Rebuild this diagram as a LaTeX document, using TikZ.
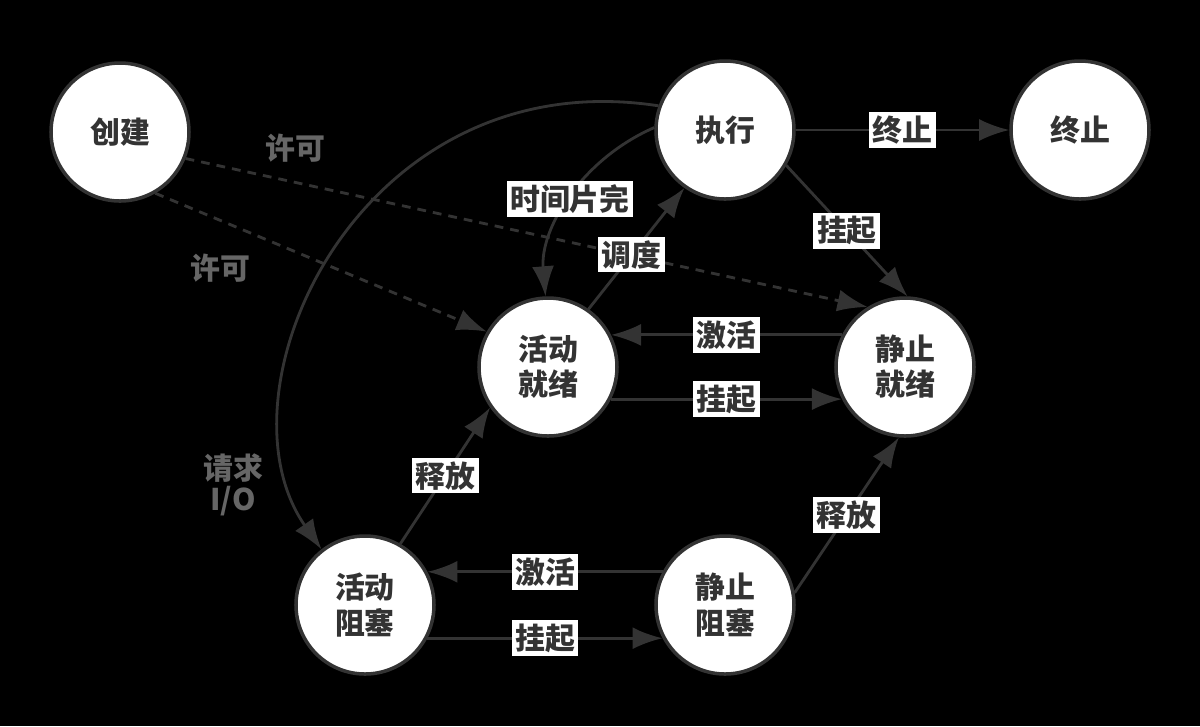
\documentclass[tikz,border=0pt]{standalone}
\usepackage{fontspec}
\setmainfont{Noto Sans CJK SC}
\usetikzlibrary{arrows.meta}
\definecolor{ink}{HTML}{333333}
\definecolor{soft}{HTML}{666666}
\tikzset{
	state/.style={circle,draw=ink,fill=white,line width=1pt,minimum size=1.38cm,inner sep=0pt,align=center,text=ink,font=\bfseries\fontsize{8.5}{10}\selectfont},
	flow/.style={draw=ink,line width=0.8pt,-{Latex[length=3mm,width=2.2mm]}},
	perm/.style={flow,dashed,dash pattern=on 2.5pt off 2pt},
	tag/.style={fill=white,text=ink,inner sep=1pt,font=\bfseries\fontsize{8.5}{10}\selectfont},
	note/.style={text=soft,align=center,font=\bfseries\fontsize{8.5}{9}\selectfont}
}
\begin{document}
\begin{tikzpicture}
\fill[black] (0,0) rectangle (12,-7.26);
\node[state] (create) at (1.2,-1.32) {创建};
\node[state] (run) at (7.25,-1.30) {执行};
\node[state] (stop) at (10.8,-1.30) {终止};
\node[state] (ready) at (5.48,-3.67) {活动\\就绪};
\node[state] (sready) at (9.05,-3.67) {静止\\就绪};
\node[state] (block) at (3.65,-6.05) {活动\\阻塞};
\node[state] (sblock) at (7.25,-6.05) {静止\\阻塞};

\draw[flow] (run) -- node[tag] {终止} (stop);
\draw[perm] (create.-22) -- (sready.122);
\node[note] (perm1) at (2.95,-1.48) {许可};
\draw[perm] (create.-60) -- (ready.150);
\node[note] (perm2) at (2.2,-2.68) {许可};
\draw[flow] (run.178) .. controls (5.8,-1.6) and (5.4,-2.3) .. (ready.92)
	node[pos=0.5,tag] {时间片完};
\draw[flow] (ready.55) -- node[tag,pos=0.45] {调度} (run.-125);
\draw[flow] (run.-30) -- node[tag] {挂起} (sready.88);
\draw[flow] (sready.153) -- node[tag] {激活} (ready.27);
\draw[flow] (ready.-27) -- node[tag] {挂起} (sready.-153);
\draw[flow] (block.60) -- node[tag] {释放} (ready.-145);
\draw[flow] (sblock.152) -- node[tag] {激活} (block.28);
\draw[flow] (block.-28) -- node[tag] {挂起} (sblock.-152);
\draw[flow] (sblock.10) -- node[tag] {释放} (sready.-95);
\draw[flow] (run.160) .. controls (3.6,-0.6) and (2.1,-3.9) .. (block.128);
\node[note] (askio) at (2.33,-4.85) {请求\\I/O};
\end{tikzpicture}
\end{document}
